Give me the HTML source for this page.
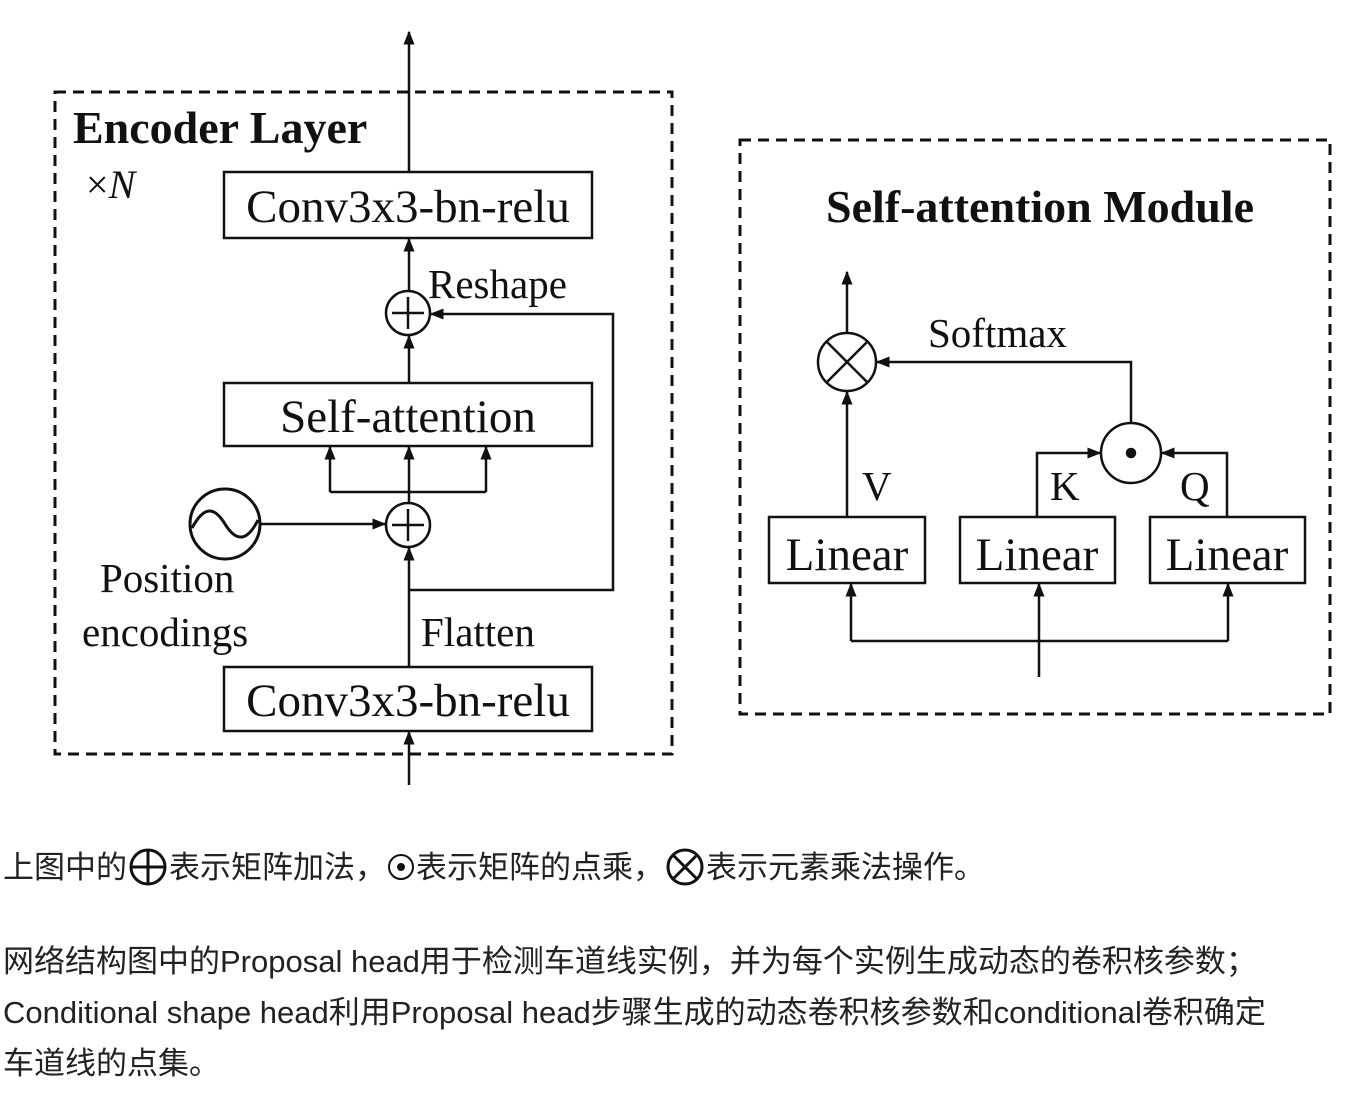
<!DOCTYPE html>
<html><head><meta charset="utf-8"><style>
body{margin:0;background:#fff;width:1372px;height:1098px;overflow:hidden;position:relative}
.t{position:absolute;left:3px;font-family:"Liberation Sans","Noto Sans CJK SC",sans-serif;font-size:31px;color:#222;white-space:nowrap;line-height:1}
</style></head><body>
<svg width="1372" height="820" style="position:absolute;left:0;top:0" font-family="Liberation Serif, serif" fill="none" stroke="#111">
<defs><marker id="a" markerWidth="10" markerHeight="10" refX="9" refY="5" orient="auto" markerUnits="userSpaceOnUse"><path d="M0,0L10,5L0,10z" fill="#111" stroke="none"/></marker>
<marker id="b" viewBox="0 0 10 10" markerWidth="14" markerHeight="14" refX="9" refY="5" orient="auto" markerUnits="userSpaceOnUse"><path d="M0,1L10,5L0,9z" fill="#111" stroke="none"/></marker></defs>
<g stroke-width="3" stroke-dasharray="11 7"><rect x="55" y="92" width="617" height="662"/><rect x="740" y="140" width="590" height="574"/></g>
<g stroke-width="2.5">
<line x1="409" y1="172" x2="409" y2="32" marker-end="url(#b)"/>
<rect x="224" y="172" width="368" height="66"/>
<line x1="409" y1="291" x2="409" y2="239" marker-end="url(#b)"/>
<circle cx="408" cy="313" r="22"/><path d="M392,313h32M408,297v32"/>
<path d="M409,590H613V314H431" marker-end="url(#b)"/>
<line x1="409" y1="383" x2="409" y2="336" marker-end="url(#b)"/>
<rect x="224" y="383" width="368" height="63"/>
<path d="M330,492H486"/>
<line x1="330" y1="492" x2="330" y2="447" marker-end="url(#b)"/>
<line x1="409" y1="503" x2="409" y2="447" marker-end="url(#b)"/>
<line x1="486" y1="492" x2="486" y2="447" marker-end="url(#b)"/>
<circle cx="408" cy="525" r="22"/><path d="M392,525h32M408,509v32"/>
<circle cx="225" cy="524" r="35" stroke-width="3"/><path d="M192,528c12,-22 22,-22 33,-4s22,18 33,-4" stroke-width="3"/>
<line x1="260" y1="524" x2="385" y2="524" marker-end="url(#b)"/>
<line x1="409" y1="667" x2="409" y2="548" marker-end="url(#b)"/>
<rect x="224" y="667" width="368" height="64"/>
<line x1="409" y1="785" x2="409" y2="732" marker-end="url(#b)"/>
<circle cx="847" cy="362" r="29"/><path d="M827,342l40,40M867,342l-40,40"/>
<line x1="847" y1="333" x2="847" y2="272" marker-end="url(#b)"/>
<path d="M1131,423V362H877" marker-end="url(#b)"/>
<circle cx="1131" cy="453" r="30"/><circle cx="1131" cy="453" r="4" fill="#111"/>
<line x1="847" y1="517" x2="847" y2="392" marker-end="url(#b)"/>
<path d="M1037,517V453H1100" marker-end="url(#b)"/>
<path d="M1227,517V453H1162" marker-end="url(#b)"/>
<rect x="769" y="517" width="156" height="66"/><rect x="960" y="517" width="155" height="66"/><rect x="1150" y="517" width="155" height="66"/>
<path d="M851,641H1228"/>
<line x1="851" y1="641" x2="851" y2="584" marker-end="url(#b)"/>
<line x1="1228" y1="641" x2="1228" y2="584" marker-end="url(#b)"/>
<line x1="1039" y1="677" x2="1039" y2="584" marker-end="url(#b)"/>
</g>
<g fill="#111" stroke="none" font-size="44">
<text x="73" y="143" font-weight="bold" font-size="46">Encoder Layer</text>
<text x="86" y="198" font-size="40">×<tspan font-style="italic">N</tspan></text>
<text x="408" y="222" text-anchor="middle" font-size="47">Conv3x3-bn-relu</text>
<text x="428" y="298" font-size="41">Reshape</text>
<text x="408" y="432" text-anchor="middle" font-size="47">Self-attention</text>
<text x="100" y="592" font-size="41">Position</text>
<text x="82" y="646" font-size="41">encodings</text>
<text x="421" y="646" font-size="41">Flatten</text>
<text x="408" y="716" text-anchor="middle" font-size="47">Conv3x3-bn-relu</text>
<text x="1040" y="222" text-anchor="middle" font-weight="bold" font-size="46">Self-attention Module</text>
<text x="928" y="347" font-size="41">Softmax</text>
<text x="862" y="500" font-size="41">V</text>
<text x="1050" y="500" font-size="41">K</text>
<text x="1180" y="500" font-size="41">Q</text>
<text x="847" y="570" text-anchor="middle" font-size="47">Linear</text>
<text x="1037" y="570" text-anchor="middle" font-size="47">Linear</text>
<text x="1227" y="570" text-anchor="middle" font-size="47">Linear</text>
</g>
</svg>
<div class="t" style="top:848px">上图中的<svg width="42" height="38" style="vertical-align:-8px" fill="none" stroke="#111" stroke-width="3"><circle cx="21" cy="19" r="17"/><path d="M4,19h34M21,2v34"/></svg>表示矩阵加法，<svg width="30" height="30" style="vertical-align:-4px" fill="none" stroke="#111" stroke-width="2"><circle cx="15" cy="15" r="12"/><circle cx="15" cy="15" r="3" fill="#111"/></svg>表示矩阵的点乘，<svg width="42" height="38" style="vertical-align:-8px" fill="none" stroke="#111" stroke-width="3"><circle cx="21" cy="19" r="17"/><path d="M9,7l24,24M33,7l-24,24"/></svg>表示元素乘法操作。</div>
<div class="t" style="top:946px">网络结构图中的Proposal head用于检测车道线实例，并为每个实例生成动态的卷积核参数；</div>
<div class="t" style="top:997px">Conditional shape head利用Proposal head步骤生成的动态卷积核参数和conditional卷积确定</div>
<div class="t" style="top:1048px">车道线的点集。</div>
</body></html>
